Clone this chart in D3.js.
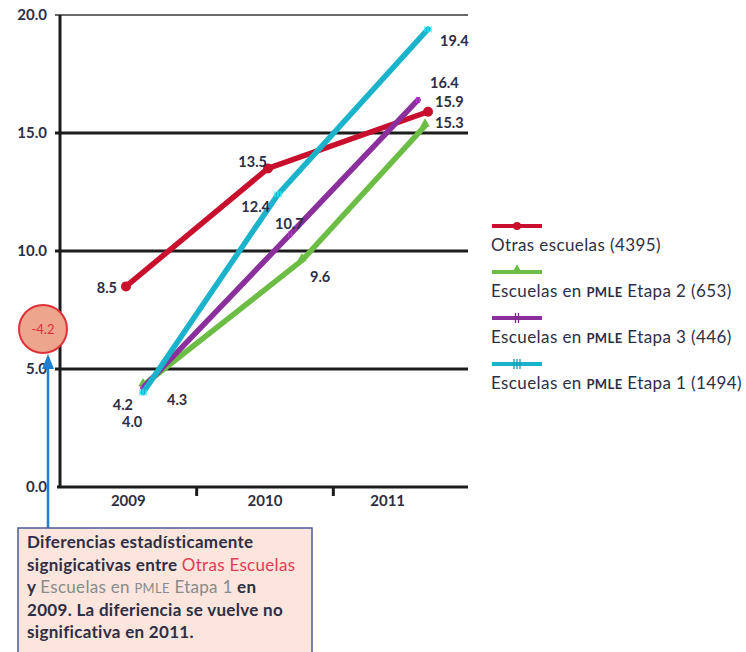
<!DOCTYPE html>
<html lang="es">
<head>
  <meta charset="UTF-8" />
  <title>Escuelas PMLE</title>
  <script src="https://d3js.org/d3.v7.min.js"></script>
  <style>
    body { margin: 0; background: #fff; font-family: "Lato", "Open Sans", sans-serif; }
    svg text { fill: #2e2e45; }
    .tick-label { font-size: 15px; font-weight: 700; }
    .val { font-size: 14.5px; font-weight: 700; }
    .legend text { font-size: 17px; letter-spacing: 0.4px; }
    .note text { font-size: 17px; font-weight: 700; letter-spacing: 0.3px; }
  </style>
</head>
<body>
<svg width="746" height="652"></svg>
<script>
const years = [2009, 2010, 2011];
const yTicks = [0, 5, 10, 15, 20];
const seriesNames = [
  "Otras escuelas (4395)",
  "Escuelas en PMLE Etapa 2 (653)",
  "Escuelas en PMLE Etapa 3 (446)",
  "Escuelas en PMLE Etapa 1 (1494)"
];
const otras = [8.5, 13.5, 15.9];
const etapa2 = [4.3, 9.6, 15.3];
const etapa3 = [4.2, 10.7, 16.4];
const etapa1 = [4.0, 12.4, 19.4];
const diffValue = "-4.2";
const noteLines = [
  [["Diferencias estadísticamente", null]],
  [["signigicativas entre ", null], ["Otras Escuelas", "red"]],
  [["y ", null], ["Escuelas en ", "grey"], ["PMLE", "grey-sc"], [" Etapa 1", "grey"], [" en", null]],
  [["2009. La diferiencia se vuelve no", null]],
  [["significativa en 2011.", null]]
];

// styles
const colors = ["#c8102e", "#6cbd45", "#8b2f9c", "#1bb3cc"];
const markers = ["circle", "triangle", "bar2", "bar3"];
// small horizontal nudges of each series, as in the original drawing
const xNudge = [[-14, -16, 0], [3, 18, -3], [3, 6, -10], [3, -6, 0]];
const labelPos = [
  [[-9, 7, "end"], [-1, -1, "end"], [7, -5, "start"]],
  [[24, 19, "start"], [8, 22, "start"], [10, 2, "start"]],
  [[-10, 22, "end"], [-15, -5, "start"], [12, -12, "start"]],
  [[-21, 34, "start"], [-8, 18, "end"], [12, 17, "start"]]
];

const series = [otras, etapa2, etapa3, etapa1].map((vals, i) => ({
  name: seriesNames[i], values: vals, color: colors[i], marker: markers[i],
  labels: labelPos[i], nudge: xNudge[i]
}));

const svg = d3.select("svg");
const plotLeft = 60, plotRight = 468, plotTop = 15, plotBottom = 487;

const y = d3.scaleLinear().domain([0, 20]).range([plotBottom, plotTop]);
const xBand = d3.scaleBand().domain(years).range([plotLeft, 470]);
const x = d3.scalePoint().domain(years).range([140, 428]);

// gridlines
svg.append("g").selectAll("line")
  .data(yTicks.filter(d => d > 0))
  .join("line")
  .attr("x1", plotLeft - 5).attr("x2", plotRight)
  .attr("y1", d => y(d)).attr("y2", d => y(d))
  .attr("stroke", d => d === 20 ? "#6a6a6a" : "#1c1c1c")
  .attr("stroke-width", d => d === 20 ? 2 : 3);

// y axis line
svg.append("line")
  .attr("x1", plotLeft).attr("x2", plotLeft).attr("y1", plotTop).attr("y2", plotBottom)
  .attr("stroke", "#1c1c1c").attr("stroke-width", 3);

// x axis
svg.append("line")
  .attr("x1", plotLeft - 3).attr("x2", plotRight).attr("y1", plotBottom).attr("y2", plotBottom)
  .attr("stroke", "#1c1c1c").attr("stroke-width", 3);
svg.append("g").selectAll("line")
  .data(years.slice(1))
  .join("line")
  .attr("x1", d => xBand(d)).attr("x2", d => xBand(d))
  .attr("y1", plotBottom).attr("y2", plotBottom + 9)
  .attr("stroke", "#1c1c1c").attr("stroke-width", 3);
svg.append("g").selectAll("text")
  .data(years)
  .join("text")
  .attr("class", "tick-label")
  .attr("x", (d, i) => xBand(d) + xBand.bandwidth() / 2 - (i === 2 ? 14 : 0))
  .attr("y", plotBottom + 19)
  .attr("text-anchor", "middle")
  .text(d => d);

// y tick labels
svg.append("g").selectAll("text")
  .data(yTicks)
  .join("text")
  .attr("class", "tick-label")
  .attr("x", 47)
  .attr("y", d => y(d) + 5)
  .attr("text-anchor", "end")
  .text(d => d.toFixed(1));

// lines
const px = (s, i) => x(years[i]) + s.nudge[i];
const g = svg.append("g");
series.forEach(s => {
  const line = d3.line().x((d, i) => px(s, i)).y(d => y(d));
  g.append("path")
    .attr("d", line(s.values))
    .attr("fill", "none")
    .attr("stroke", s.color)
    .attr("stroke-width", 5.5)
    .attr("stroke-linecap", "round")
    .attr("stroke-linejoin", "round");
  s.values.forEach((v, i) => drawMarker(g, s, px(s, i), y(v)));
});

function drawMarker(sel, s, cx, cy) {
  if (s.marker === "circle") {
    sel.append("circle").attr("cx", cx).attr("cy", cy).attr("r", 5).attr("fill", s.color);
  } else if (s.marker === "triangle") {
    sel.append("path").attr("d", d3.symbol(d3.symbolTriangle, 40)())
      .attr("transform", `translate(${cx},${cy - 2})`).attr("fill", s.color);
  } else {
    const n = s.marker === "bar2" ? 2 : 3;
    const shade = d3.color(s.color).brighter(0.8);
    for (let k = 0; k < n; k++) {
      sel.append("line")
        .attr("x1", cx + (k - (n - 1) / 2) * 3).attr("x2", cx + (k - (n - 1) / 2) * 3)
        .attr("y1", cy - 3).attr("y2", cy + 3)
        .attr("stroke", shade).attr("stroke-width", 1.2);
    }
  }
}

// value labels
series.forEach(s => {
  svg.append("g").selectAll("text")
    .data(s.values)
    .join("text")
    .attr("class", "val")
    .attr("x", (d, i) => px(s, i) + s.labels[i][0])
    .attr("y", (d, i) => y(d) + s.labels[i][1])
    .attr("text-anchor", (d, i) => s.labels[i][2])
    .text(d => d.toFixed(1));
});

// legend
const legend = svg.append("g").attr("class", "legend").attr("transform", "translate(492,226)");
series.forEach((s, i) => {
  const row = legend.append("g").attr("transform", `translate(0,${i * 46})`);
  row.append("line").attr("x1", 0).attr("x2", 50).attr("y1", 0).attr("y2", 0)
    .attr("stroke", s.color).attr("stroke-width", 4);
  if (s.marker === "circle") {
    row.append("circle").attr("cx", 25).attr("cy", 0).attr("r", 4).attr("fill", s.color);
  } else if (s.marker === "triangle") {
    row.append("path").attr("d", d3.symbol(d3.symbolTriangle, 30)())
      .attr("transform", "translate(25,-3)").attr("fill", s.color);
  } else {
    const n = s.marker === "bar2" ? 2 : 3;
    for (let k = 0; k < n; k++) {
      row.append("line")
        .attr("x1", 25 + (k - (n - 1) / 2) * 3).attr("x2", 25 + (k - (n - 1) / 2) * 3)
        .attr("y1", -5).attr("y2", 5)
        .attr("stroke", d3.color(s.color).darker(0.4)).attr("stroke-width", 1.3);
    }
  }
  const t = row.append("text").attr("x", -1).attr("y", 25);
  const parts = s.name.split("PMLE");
  t.append("tspan").text(parts[0]);
  if (parts.length > 1) {
    t.append("tspan").attr("font-size", "13px").attr("font-weight", 700).text("PMLE");
    t.append("tspan").text(parts[1]);
  }
});

// annotation arrow
const arrowX = 48, arrowTip = y(5) - 15;
svg.append("line")
  .attr("x1", arrowX).attr("x2", arrowX).attr("y1", 652).attr("y2", arrowTip + 10)
  .attr("stroke", "#1e7fd0").attr("stroke-width", 2.5);
svg.append("path")
  .attr("d", `M${arrowX - 6},${arrowTip + 15} L${arrowX},${arrowTip} L${arrowX + 6},${arrowTip + 15} Z`)
  .attr("fill", "#1e7fd0");

// difference bubble
svg.append("circle")
  .attr("cx", 43).attr("cy", 329).attr("r", 24)
  .attr("fill", "#eda58d").attr("stroke", "#e0303a").attr("stroke-width", 2);
svg.append("text")
  .attr("x", 43).attr("y", 334)
  .attr("text-anchor", "middle")
  .style("fill", "#d8303a").style("font-size", "13px")
  .text(diffValue);

// note box
const note = svg.append("g").attr("class", "note");
note.append("rect")
  .attr("x", 18).attr("y", 528).attr("width", 294).attr("height", 140)
  .attr("fill", "#fbe5dc").attr("stroke", "#4e5a9c").attr("stroke-width", 1.5);
const noteColors = { red: "#e23b55", grey: "#8a8a8a", "grey-sc": "#8a8a8a" };
noteLines.forEach((parts, i) => {
  const t = note.append("text").attr("x", 27).attr("y", 548 + i * 22.5);
  parts.forEach(([txt, kind]) => {
    const ts = t.append("tspan").text(txt);
    if (kind) ts.style("fill", noteColors[kind]).attr("font-weight", 400);
    if (kind === "grey-sc") ts.attr("font-size", "13px");
  });
});
</script>
</body>
</html>
